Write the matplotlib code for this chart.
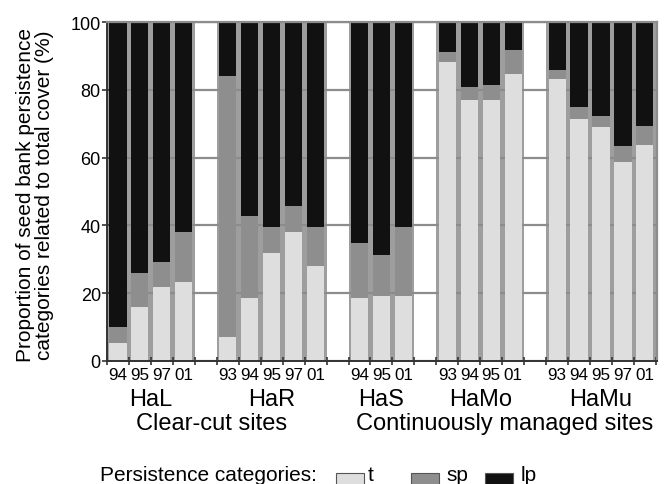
import matplotlib
matplotlib.use("Agg")
import matplotlib.pyplot as plt
import matplotlib.transforms as mtransforms
from matplotlib.patches import Rectangle

plt.rcParams["font.family"] = ["Liberation Sans", "DejaVu Sans"]

sites = ["HaL", "HaR", "HaS", "HaMo", "HaMu"]
years = [["94", "95", "97", "01"],
         ["93", "94", "95", "97", "01"],
         ["94", "95", "01"],
         ["93", "94", "95", "01"],
         ["93", "94", "95", "97", "01"]]
# % of total cover: transient (t), short-term persistent (sp), long-term persistent (lp)
t = [5.4, 15.8, 21.7, 23.2,
     7.2, 18.5, 32.0, 38.2, 28.1,
     18.5, 19.3, 19.2,
     88.2, 76.9, 77.1, 84.7,
     83.3, 71.4, 69.0, 58.8, 63.6]
sp = [4.5, 10.1, 7.4, 15.0,
      76.8, 24.4, 7.6, 7.6, 11.5,
      16.3, 11.9, 20.4,
      3.0, 3.9, 4.4, 6.9,
      2.6, 3.5, 3.2, 4.5, 5.6]
lp = [90.1, 74.1, 70.9, 61.8,
      16.0, 57.1, 60.4, 54.2, 60.4,
      65.2, 68.8, 60.4,
      8.8, 19.2, 18.5, 8.4,
      14.1, 25.1, 27.8, 36.7, 30.8]
management = ["Clear-cut sites", "Continuously managed sites"]
categories = ["t", "sp", "lp"]
colors = ["#dedede", "#8e8e8e", "#111111"]

# bar positions: one empty slot between sites
xpos, centers, labels = [], [], []
slot = 0
for site, yrs in zip(sites, years):
    first = slot
    for y in yrs:
        xpos.append(slot)
        labels.append(y)
        slot += 1
    centers.append((first + slot - 1) / 2)
    slot += 1
nslots = slot - 1

fig = plt.figure(figsize=(6.72, 4.85), dpi=100)
ax = fig.add_axes([107 / 672, 123 / 485, 550 / 672, 339 / 485])

# grey separators behind the bars
total = [a + b + c for a, b, c in zip(t, sp, lp)]
ax.bar(xpos, total, width=1.0, color="#9e9e9e", zorder=1)
bottom = [0] * len(t)
for vals, col in zip([t, sp, lp], colors):
    ax.bar(xpos, vals, width=0.78, bottom=bottom, color=col, zorder=2)
    bottom = [b + v for b, v in zip(bottom, vals)]

ax.set_xlim(-0.45, nslots - 0.45)
ax.set_ylim(0, 100)
ax.set_yticks([0, 20, 40, 60, 80, 100])
ax.tick_params(axis="y", labelsize=13, direction="inout", length=7, width=1.2,
               color="#333333", pad=1)
ax.set_xticks(xpos)
ax.set_xticklabels(labels, fontsize=12.3)
ax.set_xticks([k - 0.5 for k in range(nslots + 1)], minor=True)
ax.tick_params(axis="x", which="major", length=0, pad=4)
ax.tick_params(axis="x", which="minor", direction="inout", length=6, width=1.2,
               color="#333333")
ax.set_axisbelow("line")
ax.grid(axis="y", color="#8c8c8c", linewidth=1.6)

for side in ["left", "bottom"]:
    ax.spines[side].set_color("#333333")
    ax.spines[side].set_linewidth(1.4)
for side in ["top", "right"]:
    ax.spines[side].set_color("#8c8c8c")
    ax.spines[side].set_linewidth(1.6)

trans = mtransforms.blended_transform_factory(ax.transData, fig.transFigure)
for site, c in zip(sites, centers):
    ax.text(c, 1 - 400 / 485, site, transform=trans, ha="center", va="center",
            fontsize=17)
ax.text((centers[0] + centers[1]) / 2, 1 - 424 / 485, management[0],
        transform=trans, ha="center", va="center", fontsize=17)
ax.text(17.6, 1 - 424 / 485, management[1],
        transform=trans, ha="center", va="center", fontsize=17)

fig.text(35 / 672, 1 - 195 / 485,
         "Proportion of seed bank persistence\ncategories related to total cover (%)",
         rotation=90, ha="center", va="center", fontsize=15, linespacing=0.95)

# legend row
fig.text(100 / 672, 1 - 481 / 485, "Persistence categories:", ha="left",
         va="baseline", fontsize=15)
sq_x = [336, 411, 485]
lab_x = [368, 446, 521]
for x0, lx, col, cat in zip(sq_x, lab_x, colors, categories):
    fig.patches.append(Rectangle((x0 / 672, -10 / 485), 28 / 672, 21 / 485,
                                 transform=fig.transFigure, facecolor=col,
                                 edgecolor="#555555", linewidth=0.8))
    fig.text(lx / 672, 1 - 481 / 485, cat, ha="left", va="baseline", fontsize=15)

fig.savefig("out.png", dpi=100)
